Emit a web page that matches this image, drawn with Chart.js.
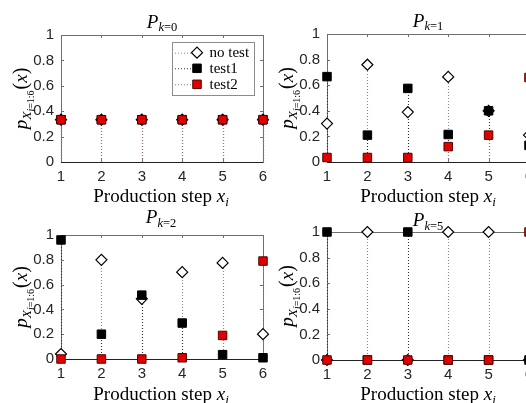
<!DOCTYPE html>
<html><head><meta charset="utf-8">
<script src="https://cdn.jsdelivr.net/npm/chart.js@4.4.1/dist/chart.umd.min.js"></script>
<style>
html,body{margin:0;padding:0;background:#fff;width:526px;height:403px;overflow:hidden;position:relative}
canvas{position:absolute}
</style></head><body>
<canvas id="c0" width="275" height="215" style="left:0;top:0"></canvas>
<canvas id="c1" width="280" height="215" style="left:262px;top:0"></canvas>
<canvas id="c2" width="275" height="203" style="left:0;top:200px"></canvas>
<canvas id="c3" width="280" height="203" style="left:262px;top:200px"></canvas>
<script>
// ---- data ----
const steps = [1, 2, 3, 4, 5, 6];
const xTickLabels = ['1', '2', '3', '4', '5', '6'];
const yTickLabels = ['0', '0.2', '0.4', '0.6', '0.8', '1'];
const seriesNames = ['no test', 'test1', 'test2'];
const panelSubs = ['k=0', 'k=1', 'k=2', 'k=5'];
const xLabelText = 'Production step ';

const noTestK0 = [0.333, 0.333, 0.333, 0.333, 0.333, 0.333];
const test1K0  = [0.333, 0.333, 0.333, 0.333, 0.333, 0.333];
const test2K0  = [0.333, 0.333, 0.333, 0.333, 0.333, 0.333];

const noTestK1 = [0.30, 0.76, 0.39, 0.665, 0.40, 0.21];
const test1K1  = [0.667, 0.21, 0.575, 0.215, 0.40, 0.13];
const test2K1  = [0.035, 0.035, 0.035, 0.12, 0.21, 0.66];

const noTestK2 = [0.04, 0.80, 0.485, 0.70, 0.775, 0.20];
const test1K2  = [0.96, 0.20, 0.515, 0.29, 0.035, 0.01];
const test2K2  = [0, 0, 0, 0.01, 0.19, 0.79];

const noTestK5 = [0, 1, 0, 1, 1, 0];
const test1K5  = [1, 0, 1, 0, 0, 0];
const test2K5  = [0, 0, 0, 0, 0, 1];

// ---- styles ----
const SERIF = '"Liberation Serif", "Times New Roman", serif';
const SANS = '"Liberation Sans", Arial, sans-serif';
const stemColors = ['#8a8a8a', '#333333', '#9a7a7a'];
const boxColor = '#6e6e6e';

function drawParts(ctx, parts, x, y, align) {
  let w = 0;
  for (const p of parts) { ctx.font = p.f; w += ctx.measureText(p.t).width + (p.gap || 0); }
  let cx = align === 'center' ? x - w / 2 : x;
  ctx.textAlign = 'left';
  ctx.textBaseline = 'alphabetic';
  for (const p of parts) {
    ctx.font = p.f;
    ctx.fillText(p.t, cx, y + (p.dy || 0));
    cx += ctx.measureText(p.t).width + (p.gap || 0);
  }
}

function drawMarker(ctx, kind, x, y) {
  ctx.save();
  ctx.beginPath();
  if (kind === 0) {
    const r = 5.5;
    ctx.moveTo(x - r, y); ctx.lineTo(x, y - r); ctx.lineTo(x + r, y); ctx.lineTo(x, y + r); ctx.closePath();
    ctx.fillStyle = '#fff'; ctx.strokeStyle = '#000'; ctx.lineWidth = 1.2;
  } else {
    const s = 4.25;
    ctx.rect(x - s, y - s, 2 * s, 2 * s);
    ctx.fillStyle = kind === 1 ? '#000' : '#e00000';
    ctx.strokeStyle = kind === 1 ? '#000' : '#500';
    ctx.lineWidth = 1;
  }
  ctx.fill(); ctx.stroke();
  ctx.restore();
}

function makePanel(id, W, H, area, series, sub, txt, legend) {
  const ds = series.map((vals, k) => ({
    label: seriesNames[k],
    data: steps.map((x, i) => ({ x: x, y: vals[i] })),
    showLine: false,
    pointStyle: k === 0 ? 'rectRot' : 'rect',
    pointRadius: k === 0 ? 5.5 : 6,
    backgroundColor: k === 0 ? '#ffffff' : (k === 1 ? '#000000' : '#e00000'),
    borderColor: k === 2 ? '#550000' : '#000000',
    borderWidth: k === 0 ? 1.2 : 1,
    order: 3 - k,
    clip: false
  }));

  const decor = {
    id: 'decor' + id,
    beforeDatasetsDraw(chart) {
      const ctx = chart.ctx, a = chart.chartArea;
      const xs = chart.scales.x, ys = chart.scales.y;
      ctx.save();
      // box
      ctx.strokeStyle = boxColor; ctx.lineWidth = 1;
      ctx.strokeRect(Math.round(a.left) + 0.5, Math.round(a.top) + 0.5, Math.round(a.right - a.left), Math.round(a.bottom - a.top));
      // inward ticks
      ctx.beginPath();
      xs.ticks.forEach(t => {
        const px = Math.round(xs.getPixelForValue(t.value)) + 0.5;
        ctx.moveTo(px, a.bottom); ctx.lineTo(px, a.bottom - 3);
        ctx.moveTo(px, a.top); ctx.lineTo(px, a.top + 3);
      });
      ys.ticks.forEach(t => {
        const py = Math.round(ys.getPixelForValue(t.value)) + 0.5;
        ctx.moveTo(a.left, py); ctx.lineTo(a.left + 3, py);
        ctx.moveTo(a.right, py); ctx.lineTo(a.right - 3, py);
      });
      ctx.stroke();
      // baseline at 0
      const y0 = ys.getPixelForValue(0);
      ctx.strokeStyle = '#222';
      ctx.beginPath(); ctx.moveTo(a.left, Math.round(y0) + 0.5); ctx.lineTo(a.right, Math.round(y0) + 0.5); ctx.stroke();
      // stems
      ctx.lineWidth = 1.1;
      ctx.setLineDash([1, 2]);
      chart.data.datasets.forEach((d, k) => {
        const meta = chart.getDatasetMeta(k);
        ctx.strokeStyle = stemColors[k];
        meta.data.forEach(el => {
          if (Math.abs(el.y - y0) < 0.5) return;
          ctx.beginPath();
          ctx.moveTo(Math.round(el.x) + 0.5, y0);
          ctx.lineTo(Math.round(el.x) + 0.5, el.y);
          ctx.stroke();
        });
      });
      ctx.restore();
    },
    afterDraw(chart) {
      const ctx = chart.ctx;
      ctx.save();
      ctx.fillStyle = '#000';
      // title
      drawParts(ctx, [
        { t: 'P', f: 'italic 19px ' + SERIF },
        { t: 'k', f: 'italic 12.5px ' + SERIF, dy: 3.5 },
        { t: sub.slice(1), f: '12.5px ' + SERIF, dy: 3.5 }
      ], txt.tx, txt.ty, 'center');
      // x label
      drawParts(ctx, [
        { t: xLabelText, f: '19px ' + SERIF },
        { t: 'x', f: 'italic 19px ' + SERIF },
        { t: 'i', f: 'italic 13px ' + SERIF, dy: 4 }
      ], txt.xx, txt.xy, 'center');
      // y label
      ctx.save();
      ctx.translate(txt.yx, txt.yy);
      ctx.rotate(-Math.PI / 2);
      drawParts(ctx, [
        { t: 'p', f: 'italic 19px ' + SERIF },
        { t: 'X', f: 'italic 13.5px ' + SERIF, dy: 3.5 },
        { t: 'i', f: 'italic 10px ' + SERIF, dy: 6.5 },
        { t: '=1:6', f: '10px ' + SERIF, dy: 6.5, gap: 1 },
        { t: '(', f: '20px ' + SERIF },
        { t: 'x', f: 'italic 19px ' + SERIF },
        { t: ')', f: '20px ' + SERIF }
      ], 0, 0, 'center');
      ctx.restore();
      // legend
      if (legend) {
        const L = legend;
        ctx.fillStyle = '#fff';
        ctx.fillRect(L.x, L.y, L.w, L.h);
        ctx.strokeStyle = '#8c8c8c'; ctx.lineWidth = 1;
        ctx.strokeRect(L.x + 0.5, L.y + 0.5, L.w, L.h);
        seriesNames.forEach((name, k) => {
          const ry = L.rows[k];
          ctx.save();
          ctx.strokeStyle = stemColors[k]; ctx.setLineDash([1, 2]); ctx.lineWidth = 1.1;
          ctx.beginPath(); ctx.moveTo(L.x + 3, ry + 0.5); ctx.lineTo(L.x + 20, ry + 0.5); ctx.stroke();
          ctx.restore();
          drawMarker(ctx, k, L.x + 25, ry);
          ctx.fillStyle = '#000';
          ctx.font = '15px ' + SERIF;
          ctx.textAlign = 'left'; ctx.textBaseline = 'alphabetic';
          ctx.fillText(name, L.x + 37.5, ry + 4.5);
        });
      }
      ctx.restore();
    }
  };

  return new Chart(document.getElementById(id), {
    type: 'scatter',
    data: { datasets: ds },
    options: {
      responsive: false,
      animation: false,
      events: [],
      devicePixelRatio: 1,
      layout: { autoPadding: false, padding: { left: 0, top: area.t, right: W - area.r, bottom: 0 } },
      plugins: { legend: { display: false }, tooltip: { enabled: false }, title: { display: false } },
      scales: {
        x: {
          type: 'linear', min: 1, max: 6,
          afterFit(s) { s.height = H - area.b; },
          grid: { display: false, drawTicks: false },
          border: { display: false },
          ticks: {
            stepSize: 1, autoSkip: false, maxRotation: 0, padding: 6,
            color: '#262626', font: { family: SANS, size: 15 },
            callback: (v, i) => xTickLabels[i]
          }
        },
        y: {
          type: 'linear', min: 0, max: 1,
          afterFit(s) { s.width = area.l; },
          grid: { display: false, drawTicks: false },
          border: { display: false },
          ticks: {
            stepSize: 0.2, autoSkip: false, padding: 7,
            color: '#262626', font: { family: SANS, size: 15 },
            callback: (v, i) => yTickLabels[i]
          }
        }
      }
    },
    plugins: [decor]
  });
}

makePanel('c0', 275, 215, { l: 61, t: 35, r: 263, b: 162 }, [noTestK0, test1K0, test2K0], panelSubs[0],
  { tx: 162, ty: 27.5, xx: 161, xy: 202, yx: 27, yy: 98.5 },
  { x: 172, y: 42, w: 82, h: 53, rows: [52.7, 68.3, 84.3] });
makePanel('c1', 280, 215, { l: 65, t: 34, r: 267, b: 162 }, [noTestK1, test1K1, test2K1], panelSubs[1],
  { tx: 166, ty: 26.7, xx: 166, xy: 202, yx: 31, yy: 98 }, null);
makePanel('c2', 275, 203, { l: 61, t: 35, r: 263, b: 159 }, [noTestK2, test1K2, test2K2], panelSubs[2],
  { tx: 161, ty: 23.3, xx: 161, xy: 200, yx: 27, yy: 97 }, null);
makePanel('c3', 280, 203, { l: 65, t: 32, r: 267, b: 160 }, [noTestK5, test1K5, test2K5], panelSubs[3],
  { tx: 166, ty: 26, xx: 166, xy: 200, yx: 31, yy: 96 }, null);
</script>
</body></html>
